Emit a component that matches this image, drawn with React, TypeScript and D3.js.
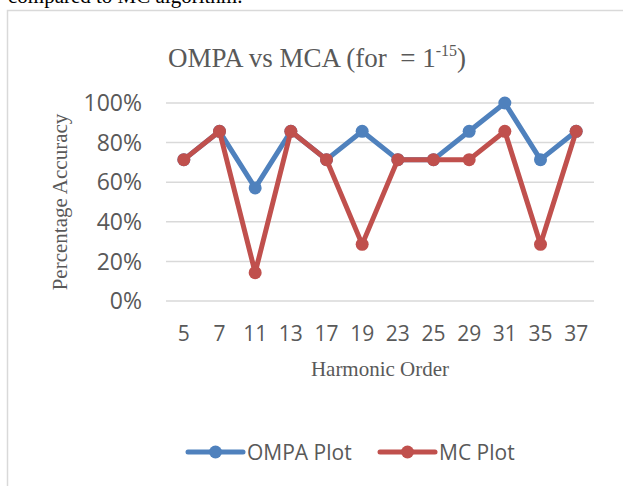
import React from 'react';
import * as d3 from 'd3';

const harmonics = ['5', '7', '11', '13', '17', '19', '23', '25', '29', '31', '35', '37'];
const ompa = [71.4, 85.7, 57.1, 85.7, 71.4, 85.7, 71.4, 71.4, 85.7, 100, 71.4, 85.7];
const mc = [71.4, 85.7, 14.3, 85.7, 71.4, 28.6, 71.4, 71.4, 71.4, 85.7, 28.6, 85.7];
const yTicks = [0, 20, 40, 60, 80, 100];

const BLUE = '#4f81bd';
const RED = '#c0504d';
const GREY = '#595959';
const SANS = '"Open Sans", sans-serif';
const SERIF = '"Liberation Serif", "Times New Roman", serif';

export default function App() {
  const width = 623;
  const height = 486;
  const plot = { left: 166, right: 594, top: 103, bottom: 301 };

  const x = d3.scaleBand().domain(harmonics).range([plot.left, plot.right]);
  const y = d3.scaleLinear().domain([0, 100]).range([plot.bottom, plot.top]);
  const cx = (h: string) => (x(h) as number) + x.bandwidth() / 2;

  const line = d3.line<number>()
    .x((_, i) => cx(harmonics[i]))
    .y(d => y(d));

  const series = [
    { name: 'OMPA Plot', values: ompa, color: BLUE },
    { name: 'MC Plot', values: mc, color: RED },
  ];
  const legendX = [188, 380];

  return (
    <svg width={width} height={height} style={{ position: 'absolute', left: 0, top: 0, background: '#fff' }}>
      {/* bit of the page text above the chart */}
      <text x={8} y={3} fontFamily={SERIF} fontSize={21} fill="#000">compared to MC algorithm.</text>

      {/* chart frame */}
      <rect x={7.5} y={10.5} width={700} height={600} fill="none" stroke="#d9d9d9" strokeWidth={1.5} />

      <text x={317} y={67} textAnchor="middle" fontFamily={SERIF} fontSize={27} fill={GREY}>
        OMPA vs MCA (for{'\u00a0\u00a0'}= 1<tspan dy={-11} fontSize={16}>-15</tspan><tspan dy={11}>)</tspan>
      </text>

      {yTicks.map(t => (
        <g key={t}>
          <line x1={plot.left} x2={plot.right} y1={y(t)} y2={y(t)} stroke="#d9d9d9" strokeWidth={1.5} />
          <text x={142} y={y(t)} dy="0.36em" textAnchor="end" fontFamily={SANS} fontSize={23} fill={GREY}>{t}%</text>
        </g>
      ))}

      {harmonics.map(h => (
        <text key={h} x={cx(h)} y={341} textAnchor="middle" fontFamily={SANS} fontSize={21} fill={GREY}>{h}</text>
      ))}

      <text x={(plot.left + plot.right) / 2} y={376} textAnchor="middle" fontFamily={SERIF} fontSize={21} fill={GREY}>Harmonic Order</text>
      <text transform={`translate(67,${(plot.top + plot.bottom) / 2}) rotate(-90)`} textAnchor="middle" fontFamily={SERIF} fontSize={21} fill={GREY}>Percentage Accuracy</text>

      {series.map(s => (
        <g key={s.name}>
          <path d={line(s.values) as string} fill="none" stroke={s.color} strokeWidth={5} strokeLinejoin="round" strokeLinecap="round" />
          {s.values.map((v, i) => (
            <circle key={i} cx={cx(harmonics[i])} cy={y(v)} r={6.5} fill={s.color} />
          ))}
        </g>
      ))}

      {series.map((s, i) => (
        <g key={s.name} transform={`translate(${legendX[i]},452)`}>
          <line x1={0} x2={55} y1={0} y2={0} stroke={s.color} strokeWidth={5} strokeLinecap="round" />
          <circle cx={27.5} cy={0} r={6.5} fill={s.color} />
          <text x={59} y={0} dy="0.36em" fontFamily={SANS} fontSize={21} fill={GREY}>{s.name}</text>
        </g>
      ))}
    </svg>
  );
}
